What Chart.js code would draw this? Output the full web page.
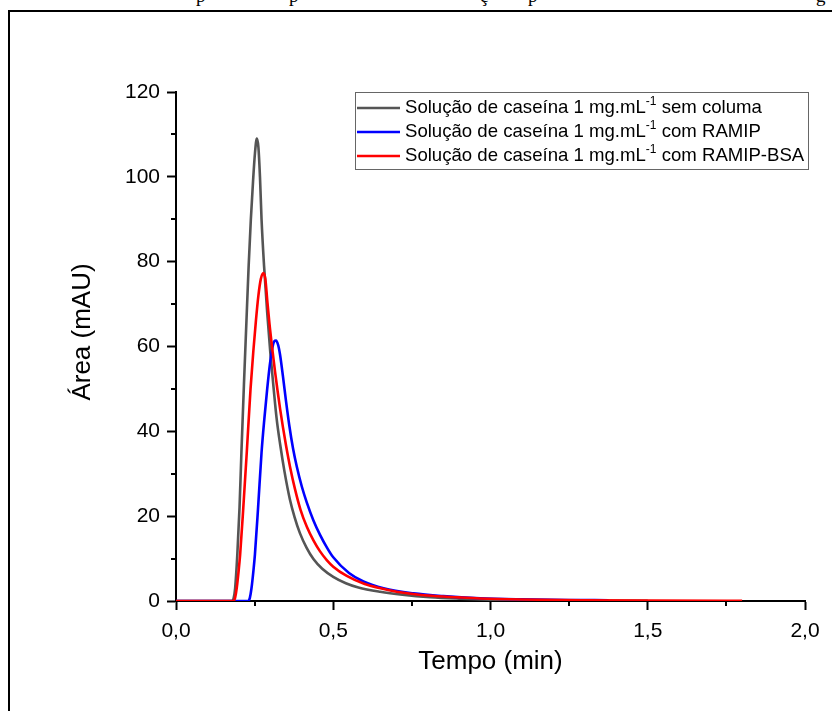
<!DOCTYPE html>
<html>
<head>
<meta charset="utf-8">
<script src="https://cdn.jsdelivr.net/npm/chart.js@4.4.1/dist/chart.umd.min.js"></script>
<style>
    body { margin: 0; background: #fff; width: 832px; height: 711px; overflow: hidden; position: relative; }
    .frame { position: absolute; left: 8px; top: 10px; width: 1000px; height: 1000px; border-left: 2px solid #000; border-top: 2px solid #000; }
    .caption { position: absolute; top: -15px; left: 0; width: 832px; height: 20px; font-family: "Liberation Serif", serif; font-size: 19px; color: #000; }
    .caption span { position: absolute; }
    #chart { position: absolute; left: 0; top: 0; }
</style>
</head>
<body>
<div class="caption">
    <span style="left:196px">p</span><span style="left:289px">p</span><span style="left:480px">ç</span><span style="left:528px">p</span><span style="left:816px">g</span>
</div>
<div class="frame"></div>
<canvas id="chart" width="832" height="711"></canvas>
<script>
// Series: time (min) and area (mAU)
const semColunaT = [0, 0.10, 0.178, 0.183, 0.188, 0.195, 0.202, 0.208, 0.216, 0.224, 0.231, 0.238, 0.245, 0.251, 0.257, 0.262, 0.267, 0.272, 0.280, 0.290, 0.300, 0.310, 0.320, 0.331, 0.345, 0.362, 0.377, 0.394, 0.415, 0.437, 0.465, 0.50, 0.54, 0.58, 0.649, 0.72, 0.808, 0.90, 1.0, 1.2, 1.5];
const semColunaY = [0, 0, 0, 0.6, 3, 11, 22, 35, 51, 66, 79, 90, 99, 105.5, 109, 107, 100, 90, 79, 68, 58.5, 50.5, 43, 37, 30.5, 24, 19.8, 16, 12.6, 9.9, 7.6, 5.7, 4.2, 3.2, 2.2, 1.5, 0.9, 0.55, 0.3, 0.12, 0.04];

const ramipT = [0, 0.10, 0.230, 0.235, 0.240, 0.246, 0.251, 0.261, 0.272, 0.281, 0.290, 0.298, 0.306, 0.312, 0.318, 0.325, 0.331, 0.340, 0.350, 0.360, 0.372, 0.384, 0.40, 0.416, 0.437, 0.458, 0.48, 0.50, 0.55, 0.596, 0.66, 0.755, 0.85, 0.967, 1.1, 1.25, 1.375];
const ramipY = [0, 0, 0, 0.8, 3, 7, 11, 22, 35, 43, 50, 55.5, 59.5, 61.2, 61.4, 60.3, 58, 53, 47, 41.5, 36, 31.7, 27, 23.2, 19, 15.6, 12.6, 10.3, 6.6, 4.6, 3.0, 1.8, 1.15, 0.65, 0.4, 0.25, 0.18];

const ramipBsaT = [0, 0.10, 0.183, 0.188, 0.193, 0.199, 0.204, 0.214, 0.225, 0.237, 0.246, 0.254, 0.262, 0.270, 0.278, 0.284, 0.290, 0.297, 0.306, 0.315, 0.323, 0.331, 0.340, 0.350, 0.363, 0.378, 0.396, 0.416, 0.437, 0.458, 0.48, 0.50, 0.543, 0.60, 0.65, 0.702, 0.80, 0.90, 0.967, 1.1, 1.3, 1.5, 1.8];
const ramipBsaY = [0, 0, 0, 0.8, 3, 7, 11, 22, 35, 50, 59, 66, 72, 76, 77.3, 76, 71, 65.5, 59.5, 54, 49.5, 45.3, 41, 36.6, 31.5, 26.5, 21.5, 17.5, 14.3, 11.7, 9.6, 8.1, 5.9, 4.0, 3.0, 2.2, 1.3, 0.85, 0.6, 0.35, 0.18, 0.1, 0.04];

const seriesLabels = [
    'Solução de caseína 1 mg.mL⁻¹ sem columa',
    'Solução de caseína 1 mg.mL⁻¹ com RAMIP',
    'Solução de caseína 1 mg.mL⁻¹ com RAMIP-BSA'
];
const seriesColors = ['#555555', '#0000ff', '#ff0000'];

const xTicks = [0, 0.5, 1.0, 1.5, 2.0];
const yTicks = [0, 20, 40, 60, 80, 100, 120];
const yTitle = 'Área (mAU)';

const fontFamily = '"Liberation Sans", Arial, sans-serif';

function toPoints(ts, ys) {
    return ts.map((t, i) => ({ x: t, y: ys[i] }));
}

// Minor ticks, y title and legend with superscript
const extras = {
    id: 'extras',
    afterDraw(chart) {
        const ctx = chart.ctx;
        const xs = chart.scales.x;
        const ys = chart.scales.y;
        const area = chart.chartArea;
        ctx.save();
        ctx.strokeStyle = '#000';
        ctx.lineWidth = 2;
        ctx.beginPath();
        for (let i = 0; i < xTicks.length - 1; i++) {
            const px = Math.round(xs.getPixelForValue((xTicks[i] + xTicks[i + 1]) / 2));
            ctx.moveTo(px, area.bottom);
            ctx.lineTo(px, area.bottom + 5);
        }
        for (let i = 0; i < yTicks.length - 1; i++) {
            const py = Math.round(ys.getPixelForValue((yTicks[i] + yTicks[i + 1]) / 2));
            ctx.moveTo(area.left, py);
            ctx.lineTo(area.left - 5, py);
        }
        ctx.stroke();

        // y axis title
        ctx.save();
        ctx.translate(83, 332);
        ctx.rotate(-Math.PI / 2);
        ctx.fillStyle = '#000';
        ctx.font = '26px ' + fontFamily;
        ctx.textAlign = 'center';
        ctx.textBaseline = 'middle';
        ctx.fillText(yTitle, 0, 0);
        ctx.restore();

        // legend box
        const bx = 355, by = 92, bw = 453, bh = 77;
        ctx.strokeStyle = '#666';
        ctx.lineWidth = 1;
        ctx.strokeRect(bx + 0.5, by + 0.5, bw, bh);
        ctx.textBaseline = 'middle';
        chart.data.datasets.forEach((ds, i) => {
            const cy = by + 16 + i * 24;
            ctx.strokeStyle = ds.borderColor;
            ctx.lineWidth = 2.5;
            ctx.beginPath();
            ctx.moveTo(bx + 2, cy);
            ctx.lineTo(bx + 45, cy);
            ctx.stroke();
            const parts = ds.label.split('⁻¹');
            let tx = bx + 50;
            ctx.fillStyle = '#000';
            ctx.font = '18.6px ' + fontFamily;
            ctx.fillText(parts[0], tx, cy);
            tx += ctx.measureText(parts[0]).width;
            ctx.font = '12px ' + fontFamily;
            ctx.fillText('-1', tx, cy - 6);
            tx += ctx.measureText('-1').width;
            ctx.font = '18.6px ' + fontFamily;
            ctx.fillText(parts[1], tx, cy);
        });
        ctx.restore();
    }
};

const tickFont = { family: fontFamily, size: 21 };
const titleFont = { family: fontFamily, size: 26 };

new Chart(document.getElementById('chart'), {
    type: 'line',
    data: {
        datasets: [
            { label: seriesLabels[0], data: toPoints(semColunaT, semColunaY), borderColor: seriesColors[0], order: 2 },
            { label: seriesLabels[1], data: toPoints(ramipT, ramipY), borderColor: seriesColors[1], order: 1 },
            { label: seriesLabels[2], data: toPoints(ramipBsaT, ramipBsaY), borderColor: seriesColors[2], order: 0 }
        ]
    },
    options: {
        responsive: false,
        animation: false,
        elements: {
            line: { borderWidth: 2.6, tension: 0.4, cubicInterpolationMode: 'monotone', fill: false },
            point: { radius: 0 }
        },
        layout: { padding: { top: 92, right: 27, left: 0, bottom: 0 } },
        plugins: { legend: { display: false }, tooltip: { enabled: false } },
        scales: {
            x: {
                type: 'linear',
                min: 0,
                max: 2,
                afterFit(scale) { scale.height = 110; },
                afterBuildTicks(scale) { scale.ticks = xTicks.map(v => ({ value: v })); },
                ticks: {
                    color: '#000',
                    font: tickFont,
                    padding: 9,
                    maxRotation: 0,
                    callback: v => v.toFixed(1).replace('.', ',')
                },
                grid: { drawOnChartArea: false, drawTicks: true, tickLength: 9, tickColor: '#000', tickWidth: 2 },
                border: { display: true, color: '#000', width: 2 },
                title: { display: true, text: 'Tempo (min)', color: '#000', font: titleFont, padding: { top: 0, bottom: 34 } }
            },
            y: {
                type: 'linear',
                min: 0,
                max: 120,
                afterFit(scale) { scale.width = 176; },
                afterBuildTicks(scale) { scale.ticks = yTicks.map(v => ({ value: v })); },
                ticks: { color: '#000', font: tickFont, padding: 7 },
                grid: { drawOnChartArea: false, drawTicks: true, tickLength: 9, tickColor: '#000', tickWidth: 2 },
                border: { display: true, color: '#000', width: 2 },
                title: { display: false }
            }
        }
    },
    plugins: [extras]
});
</script>
</body>
</html>
